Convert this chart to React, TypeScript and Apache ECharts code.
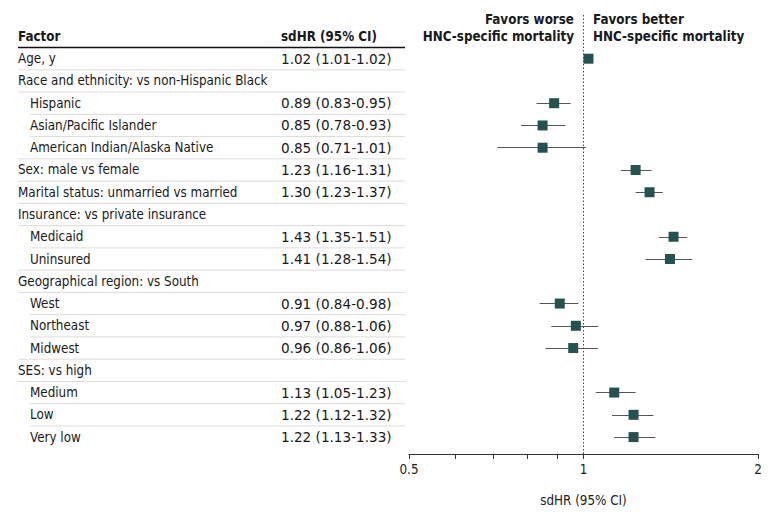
import React, { useEffect, useRef } from "react";
import * as echarts from "echarts";

const factors = [
  "Age, y",
  "Race and ethnicity: vs non-Hispanic Black",
  "Hispanic",
  "Asian/Pacific Islander",
  "American Indian/Alaska Native",
  "Sex: male vs female",
  "Marital status: unmarried vs married",
  "Insurance: vs private insurance",
  "Medicaid",
  "Uninsured",
  "Geographical region: vs South",
  "West",
  "Northeast",
  "Midwest",
  "SES: vs high",
  "Medium",
  "Low",
  "Very low",
];
const indented = [0, 0, 1, 1, 1, 0, 0, 0, 1, 1, 0, 1, 1, 1, 0, 1, 1, 1];
const hrValues = [1.02, null, 0.89, 0.85, 0.85, 1.23, 1.3, null, 1.43, 1.41, null, 0.91, 0.97, 0.96, null, 1.13, 1.22, 1.22];
const ciLow = [1.01, null, 0.83, 0.78, 0.71, 1.16, 1.23, null, 1.35, 1.28, null, 0.84, 0.88, 0.86, null, 1.05, 1.12, 1.13];
const ciHigh = [1.02, null, 0.95, 0.93, 1.01, 1.31, 1.37, null, 1.51, 1.54, null, 0.98, 1.06, 1.06, null, 1.23, 1.32, 1.33];
const majorTicks = [0.5, 1, 2];
const minorTicks = [0.6, 0.7, 0.8, 0.9];

const FONT = '"DejaVu Sans Condensed", "DejaVu Sans", sans-serif';
const NUMFONT = '"DejaVu Sans", sans-serif';
const FS = 13.3;
const MARK = "#24524f";

export default function App() {
  const ref = useRef<HTMLDivElement>(null);
  useEffect(() => {
    if (!ref.current) return;
    const chart = echarts.init(ref.current, null, { renderer: "svg" });
    const pts: any[] = [];
    const ci: any[] = [];
    factors.forEach((_, i) => {
      const v = hrValues[i];
      if (v != null) {
        pts.push([v, i]);
        ci.push({ coords: [[ciLow[i], i], [ciHigh[i], i]] });
      }
    });
    chart.setOption({
      animation: false,
      textStyle: { fontFamily: FONT },
      grid: { left: 409, right: 22, top: 15, bottom: 55 },
      xAxis: {
        type: "log",
        logBase: 2,
        min: 0.5,
        max: 2,
        position: "bottom",
        splitLine: { show: false },
        axisLine: { show: true, onZero: false, lineStyle: { color: "#333", width: 1 } },
        axisTick: {
          show: true,
          length: 5,
          lineStyle: { color: "#333" },
          customValues: [...majorTicks, ...minorTicks],
        },
        axisLabel: {
          customValues: majorTicks,
          color: "#222",
          fontSize: FS,
          fontFamily: FONT,
          margin: 9,
          formatter: (v: number) => String(v),
        },
        name: "sdHR (95% CI)",
        nameLocation: "middle",
        nameGap: 40,
        nameTextStyle: { color: "#222", fontSize: FS, fontFamily: FONT },
      },
      yAxis: {
        type: "value",
        inverse: true,
        min: -1.963,
        max: 17.76,
        show: false,
      },
      series: [
        {
          type: "lines",
          coordinateSystem: "cartesian2d",
          data: ci,
          silent: true,
          lineStyle: { color: "#555", width: 1.2, opacity: 1 },
          z: 2,
        },
        {
          type: "scatter",
          data: pts,
          symbol: "rect",
          symbolSize: 10,
          itemStyle: { color: MARK, opacity: 1 },
          z: 3,
          markLine: {
            silent: true,
            symbol: "none",
            label: { show: false },
            lineStyle: { type: [1.5, 2], color: "#444", width: 1 },
            data: [{ xAxis: 1 }],
          },
        },
      ],
    });

    const rowY = (i: number) => chart.convertToPixel({ gridIndex: 0 }, [1, i])[1];
    const g: any[] = [];
    const tStyle = (extra: any) => ({
      fontFamily: FONT,
      fontSize: FS,
      fill: "#1a1a1a",
      verticalAlign: "middle",
      ...extra,
    });
    const half = (rowY(1) - rowY(0)) / 2;
    const headY = rowY(0) - 22.4;
    g.push({ type: "text", x: 18, y: headY, style: tStyle({ text: "Factor", fontWeight: "bold" }) });
    g.push({ type: "text", x: 281, y: headY, style: tStyle({ text: "sdHR (95% CI)", fontWeight: "bold" }) });
    g.push({
      type: "line",
      shape: { x1: 18, y1: rowY(0) - half, x2: 405, y2: rowY(0) - half },
      style: { stroke: "#111", lineWidth: 1.5 },
    });
    factors.forEach((f, i) => {
      const y = rowY(i);
      g.push({ type: "text", x: indented[i] ? 30 : 18, y, style: tStyle({ text: f }) });
      const v = hrValues[i];
      if (v != null) {
        g.push({
          type: "text",
          x: 281,
          y,
          style: tStyle({
            fontFamily: NUMFONT,
            fontSize: 13.6,
            text: `${v.toFixed(2)} (${(ciLow[i] as number).toFixed(2)}-${(ciHigh[i] as number).toFixed(2)})`,
          }),
        });
      }
      if (i < factors.length - 1) {
        const x1 = indented[i] && indented[i + 1] ? 30 : 18;
        g.push({
          type: "line",
          shape: { x1, y1: y + half, x2: 405, y2: y + half },
          style: { stroke: "#dcdcd6", lineWidth: 1 },
        });
      }
    });
    g.push({ type: "text", x: 574, y: 19, style: tStyle({ text: "Favors worse", align: "right", fontWeight: "bold" }) });
    g.push({ type: "text", x: 574, y: 36, style: tStyle({ text: "HNC-specific mortality", align: "right", fontWeight: "bold" }) });
    g.push({ type: "text", x: 593, y: 19, style: tStyle({ text: "Favors better", align: "left", fontWeight: "bold" }) });
    g.push({ type: "text", x: 593, y: 36, style: tStyle({ text: "HNC-specific mortality", align: "left", fontWeight: "bold" }) });
    chart.setOption({ graphic: g });

    return () => chart.dispose();
  }, []);
  return <div ref={ref} style={{ width: 780, height: 512, position: "absolute", left: 0, top: 0 }} />;
}
